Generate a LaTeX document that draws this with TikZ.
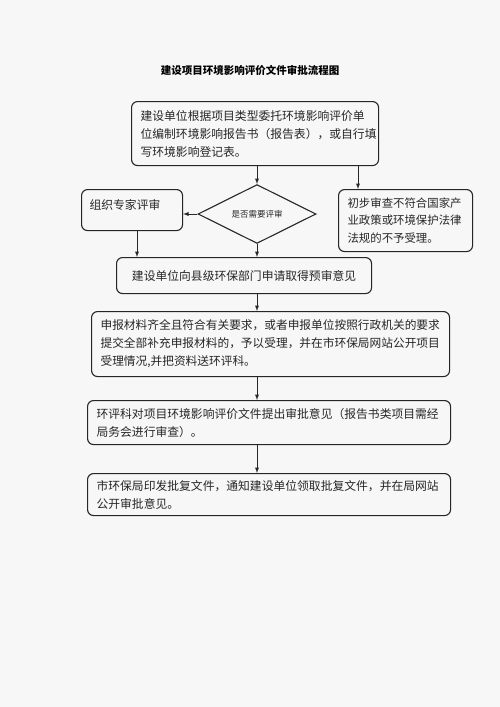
\documentclass[tikz,border=0pt]{standalone}
\usepackage{fontspec}
\newfontfamily\cjk{Noto Sans CJK SC}
\usepackage{tikz}
\usetikzlibrary{shapes,arrows,positioning,calc,shapes.geometric}
\usepackage{xcolor}
\definecolor{inkgray}{RGB}{38,38,38}
\definecolor{paper}{RGB}{247,247,247}

\begin{document}
\begin{tikzpicture}[x=1pt,y=-1pt,
    stepbox/.style={draw=inkgray, line width=1.1pt, rounded corners=6pt, anchor=north west,
        inner xsep=9pt, inner ysep=0pt, align=left, text=inkgray,
        font=\cjk\fontsize{11.8}{18}\selectfont},
    flow/.style={-latex, line width=0.9pt, draw=inkgray}]
% Page
\fill[paper] (0,0) rectangle (500,707);
\useasboundingbox (0,0) rectangle (500,707);

% Title
\node[font=\cjk\bfseries\fontsize{10.5}{12}\selectfont, text=black] (title) at (250,70) {建设项目环境影响评价文件审批流程图};

% Boxes
\node[stepbox, minimum width=247pt, minimum height=64pt, text width=229pt] (entrust) at (131,101)
    {建设单位根据项目类型委托环境影响评价单\\位编制环境影响报告书（报告表），或自行填\\写环境影响登记表。};
\node[stepbox, minimum width=101pt, minimum height=41pt, text width=85pt, inner xsep=8pt, text depth=12pt] (expert) at (81,189)
    {组织专家评审};
\node[stepbox, minimum width=134pt, minimum height=62pt, text width=116pt, font=\cjk\fontsize{11.4}{17.5}\selectfont] (reject) at (338,189)
    {初步审查不符合国家产\\业政策或环境保护法律\\法规的不予受理。};
\node[stepbox, minimum width=255pt, minimum height=36pt, text width=237pt, align=center] (apply) at (116,257)
    {建设单位向县级环保部门申请取得预审意见};
\node[stepbox, minimum width=358pt, minimum height=65pt, text width=340pt, font=\cjk\fontsize{11.7}{18}\selectfont] (accept) at (91,311)
    {申报材料齐全且符合有关要求，或者申报单位按照行政机关的要求\\提交全部补充申报材料的，予以受理，并在市环保局网站公开项目\\受理情况,并把资料送环评科。};
\node[stepbox, minimum width=363pt, minimum height=44pt, text width=345pt] (opinion) at (87,400)
    {环评科对项目环境影响评价文件提出审批意见（报告书类项目需经\\局务会进行审查）。};
\node[stepbox, minimum width=363pt, minimum height=42pt, text width=345pt] (issue) at (87,473)
    {市环保局印发批复文件，通知建设单位领取批复文件，并在局网站\\公开审批意见。};

% Decision
\node[diamond, draw=inkgray, line width=1.1pt, minimum width=118pt, minimum height=48pt, inner sep=0pt,
    text=inkgray, font=\cjk\fontsize{8.5}{10}\selectfont] (review) at (257,214) {是否需要评审};

% Connectors
\coordinate (rx) at (358,0);
\coordinate (lx) at (137,0);
\draw[flow] (review.north |- entrust.south) -- (review.north);
\draw[flow] (entrust.south -| rx) -- (reject.north -| rx);
\draw[flow] (review.west) -- (review.west -| expert.east);
\draw[flow] (expert.south -| lx) -- (apply.north -| lx);
\draw[flow] (review.south) -- (review.south |- apply.north);
\foreach \a/\b in {apply/accept, accept/opinion, opinion/issue} {
    \draw[flow] (\a.south -| review.south) -- (\b.north -| review.south);
}
\end{tikzpicture}
\end{document}
